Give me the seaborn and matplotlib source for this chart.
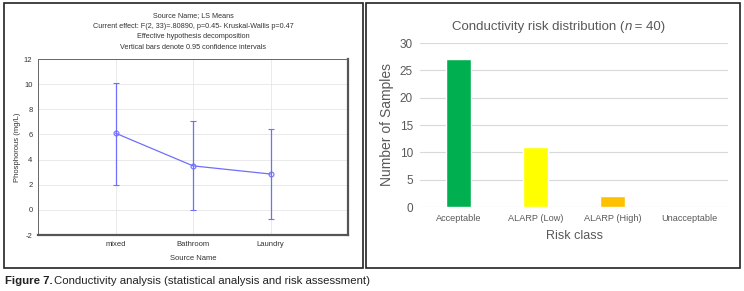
import matplotlib.pyplot as plt
import seaborn as sns
import pandas as pd
from matplotlib.patches import Rectangle

# Left panel: LS means with 0.95 confidence intervals
sources   = ['mixed', 'Bathroom', 'Laundry']
p_mean    = [6.1, 3.5, 2.85]
p_low     = [2.0, 0.0, -0.7]
p_high    = [10.1, 7.05, 6.4]
left_titles = ['Source Name; LS Means',
               'Current effect: F(2, 33)=.80890, p=0.45- Kruskal-Wallis p=0.47',
               'Effective hypothesis decomposition',
               'Vertical bars denote 0.95 confidence intervals']

# Right panel: risk class counts
risk_classes = ['Acceptable', 'ALARP (Low)', 'ALARP (High)', 'Unacceptable']
risk_counts  = [27, 11, 2, 0]
risk_colors  = ['#00B050', '#FFFF00', '#FFC000', '#C00000']

sns.set_style('white')
plt.rcParams['font.family'] = ['Liberation Sans', 'DejaVu Sans']
plt.rcParams['axes.unicode_minus'] = False

W, H = 744, 291
fig = plt.figure(figsize=(W/100, H/100), dpi=100)

# panel frames
for x0, x1 in [(4, 363), (366, 740)]:
    fig.add_artist(Rectangle((x0/W, 1-268/H), (x1-x0)/W, 265/H, transform=fig.transFigure,
                             fill=False, edgecolor='#222222', linewidth=1.2))

#==========================================================================================================
# Left panel
ax1 = fig.add_axes([38/W, 1-235/H, 310/W, 176/H])
blue = '#6f6fff'
err = [[m-l for m, l in zip(p_mean, p_low)], [h-m for m, h in zip(p_mean, p_high)]]
ax1.errorbar(sources, p_mean, yerr=err, color=blue, linewidth=0.9, elinewidth=0.9,
             capsize=2.5, capthick=0.9, marker='o', markersize=3.5,
             markerfacecolor='none', markeredgecolor=blue, markeredgewidth=0.8)
ax1.set_xlim(-1, 3)
ax1.set_ylim(-2, 12)
ax1.set_yticks(range(-2, 13, 2))
ax1.grid(True, color='#e6e6e6', linewidth=0.6)
ax1.set_axisbelow(True)
ax1.tick_params(labelsize=5.5, colors='#333333', length=2, pad=2)
for s in ['left', 'top']:
    ax1.spines[s].set_color('#666666')
    ax1.spines[s].set_linewidth(0.7)
for s in ['bottom', 'right']:
    ax1.spines[s].set_color('#555555')
    ax1.spines[s].set_linewidth(1.6)
ax1.set_ylabel('Phosphorous (mg/L)', fontsize=5.5, color='#333333', labelpad=2)
ax1.set_xlabel('Source Name', fontsize=5.5, color='#333333', labelpad=5)
for i, t in enumerate(left_titles):
    fig.text(193/W, 1-(16+10.5*i)/H, t, fontsize=5.2, color='#333333', ha='center', va='center')

#==========================================================================================================
# Right panel
ax2 = fig.add_axes([420/W, 1-207/H, 308/W, 164/H])
df = pd.DataFrame({'risk': risk_classes, 'count': risk_counts})
sns.barplot(data=df, x='risk', y='count', hue='risk', palette=risk_colors,
            width=0.33, legend=False, ax=ax2, saturation=1)
ax2.set_ylim(0, 30)
ax2.set_xlim(-0.5, 3.5)
ax2.set_yticks(range(0, 31, 5))
ax2.grid(True, axis='y', color='#d9d9d9', linewidth=0.8)
ax2.set_axisbelow(True)
sns.despine(ax=ax2, left=True, bottom=True)
ax2.tick_params(axis='y', labelsize=8.5, colors='#595959', length=0, pad=5)
ax2.tick_params(axis='x', labelsize=6.6, colors='#595959', length=0, pad=5)
ax2.set_ylabel('Number of Samples', fontsize=10, color='#595959', labelpad=4)
ax2.set_xlabel('Risk class', fontsize=9, color='#595959', labelpad=5)
fig.text(624/W, 1-27/H, 'Conductivity risk distribution (', fontsize=9.5,
         color='#595959', ha='right', va='center')
fig.text(625/W, 1-27/H, 'n', fontsize=9.5, style='italic',
         color='#595959', ha='left', va='center')
fig.text(631/W, 1-27/H, ' = 40)', fontsize=9.5,
         color='#595959', ha='left', va='center')

# caption
fig.text(5/W, 1-281/H, 'Figure 7.', fontsize=8.2, weight='bold', color='#222222',
         ha='left', va='center')
fig.text(54/W, 1-281/H, 'Conductivity analysis (statistical analysis and risk assessment)',
         fontsize=8.2, color='#222222', ha='left', va='center')

plt.savefig('out.png', dpi=100)
